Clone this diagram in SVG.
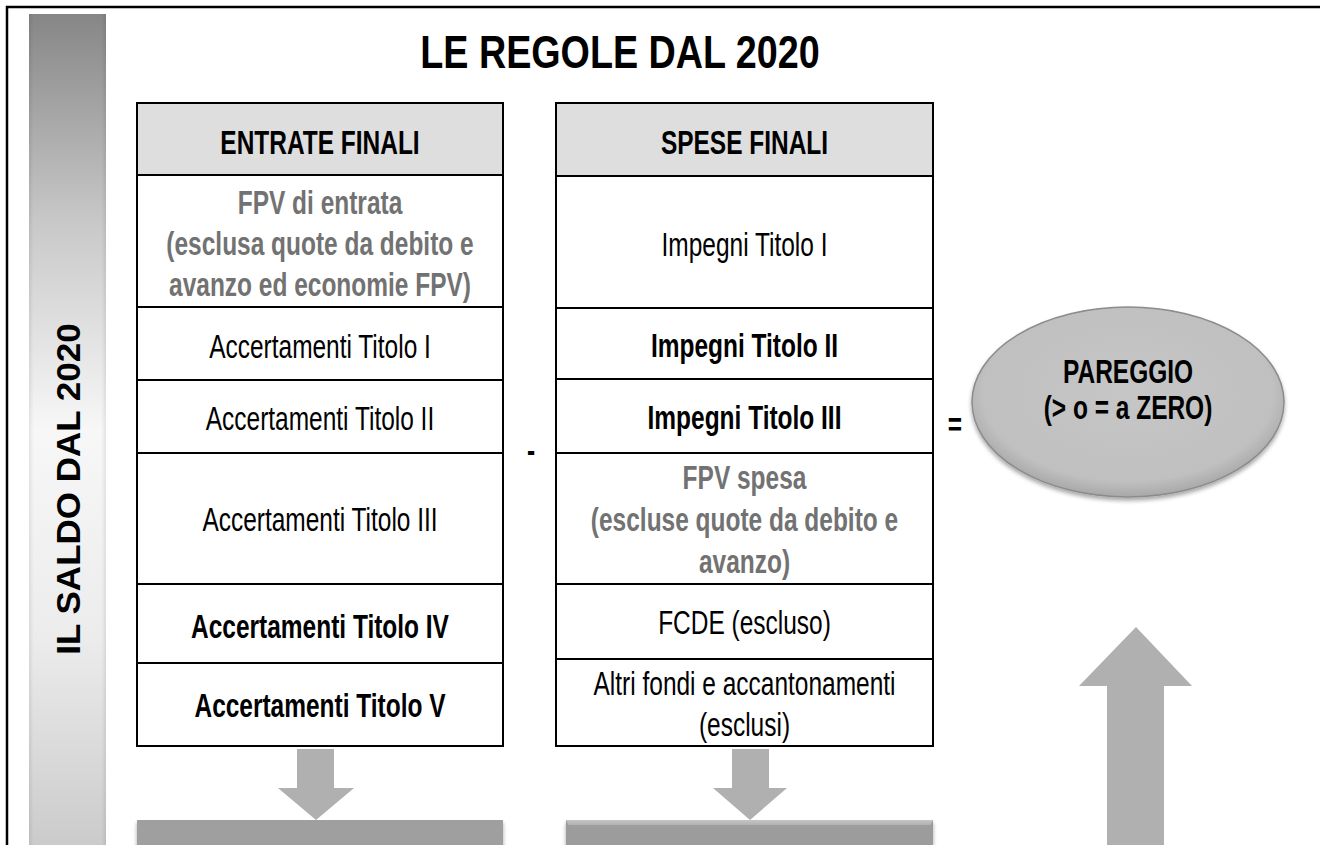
<svg xmlns="http://www.w3.org/2000/svg" width="1320" height="845" viewBox="0 0 1320 845">
<style>
text{font-family:"Liberation Sans",Arial,sans-serif;font-size:34px;text-anchor:middle;fill:#000}
.b{font-weight:bold}
.g{fill:#727272;font-weight:bold}
.cell{fill:#fff;stroke:#000;stroke-width:2}
.hdr{fill:#dedede;stroke:#000;stroke-width:2}
.arr{fill:#b0b0b0}
</style>
<defs>
<linearGradient id="barG" x1="0" y1="0" x2="0" y2="1">
<stop offset="0" stop-color="#868686"/>
<stop offset="0.25" stop-color="#c8c8c8"/>
<stop offset="0.5" stop-color="#f7f7f7"/>
<stop offset="0.75" stop-color="#ececec"/>
<stop offset="1" stop-color="#cbcbcb"/>
</linearGradient>
<linearGradient id="barEdge" x1="0" y1="0" x2="1" y2="0">
<stop offset="0" stop-color="#000" stop-opacity="0.08"/>
<stop offset="0.06" stop-color="#000" stop-opacity="0"/>
<stop offset="0.94" stop-color="#000" stop-opacity="0"/>
<stop offset="1" stop-color="#000" stop-opacity="0.08"/>
</linearGradient>
<radialGradient id="ellG" cx="0.5" cy="0.45" r="0.55">
<stop offset="0" stop-color="#c6c6c6"/>
<stop offset="0.85" stop-color="#c0c0c0"/>
<stop offset="1" stop-color="#a8a8a8"/>
</radialGradient>
<linearGradient id="boxBevel" x1="0" y1="0" x2="0" y2="1">
<stop offset="0" stop-color="#cfcfcf"/>
<stop offset="0.4" stop-color="#b8b8b8"/>
<stop offset="0.45" stop-color="#9e9e9e"/>
<stop offset="1" stop-color="#9c9c9c"/>
</linearGradient>
<filter id="sh" x="-10%" y="-10%" width="120%" height="130%">
<feGaussianBlur in="SourceAlpha" stdDeviation="2"/>
<feOffset dy="3" result="o"/>
<feComponentTransfer><feFuncA type="linear" slope="0.35"/></feComponentTransfer>
<feMerge><feMergeNode/><feMergeNode in="SourceGraphic"/></feMerge>
</filter>
</defs>
<rect width="1320" height="845" fill="#fff"/>
<!-- frame -->
<path d="M7 845 V7 H1320" fill="none" stroke="#000" stroke-width="2.5"/>

<g id="sidebar">
<rect x="29" y="14" width="77" height="831" fill="url(#barG)"/>
<rect x="29" y="14" width="77" height="831" fill="url(#barEdge)"/>
<text class="b" transform="translate(80,489) rotate(-90) scale(1.03,1)" x="0" y="0">IL SALDO DAL 2020</text>
</g>

<g id="title">
<text class="b" style="font-size:46px" transform="translate(620,0) scale(0.82,1)" x="0" y="68">LE REGOLE DAL 2020</text>
</g>

<g id="entrate">
<rect class="hdr" x="137" y="103" width="366" height="72"/>
<rect class="cell" x="137" y="175" width="366" height="132"/>
<rect class="cell" x="137" y="307" width="366" height="73"/>
<rect class="cell" x="137" y="380" width="366" height="73"/>
<rect class="cell" x="137" y="453" width="366" height="131"/>
<rect class="cell" x="137" y="584" width="366" height="79"/>
<rect class="cell" x="137" y="663" width="366" height="83"/>
<text class="b" transform="translate(320,0) scale(0.72,1)" y="154">ENTRATE FINALI</text>
<text class="g" transform="translate(320,0) scale(0.72,1)" y="214">FPV di entrata</text>
<text class="g" transform="translate(320,0) scale(0.72,1)" y="255">(esclusa quote da debito e</text>
<text class="g" transform="translate(320,0) scale(0.72,1)" y="296">avanzo ed economie FPV)</text>
<text transform="translate(320,0) scale(0.72,1)" y="358">Accertamenti Titolo I</text>
<text transform="translate(320,0) scale(0.72,1)" y="430">Accertamenti Titolo II</text>
<text transform="translate(320,0) scale(0.72,1)" y="531">Accertamenti Titolo III</text>
<text class="b" transform="translate(320,0) scale(0.72,1)" y="638">Accertamenti Titolo IV</text>
<text class="b" transform="translate(320,0) scale(0.72,1)" y="717">Accertamenti Titolo V</text>
</g>

<g id="minus">
<text class="b" transform="translate(531,0) scale(0.72,1)" y="462">-</text>
</g>

<g id="spese">
<rect class="hdr" x="556" y="103" width="377" height="73"/>
<rect class="cell" x="556" y="176" width="377" height="132"/>
<rect class="cell" x="556" y="308" width="377" height="71"/>
<rect class="cell" x="556" y="379" width="377" height="74"/>
<rect class="cell" x="556" y="453" width="377" height="131"/>
<rect class="cell" x="556" y="584" width="377" height="75"/>
<rect class="cell" x="556" y="659" width="377" height="87"/>
<text class="b" transform="translate(744.5,0) scale(0.72,1)" y="154">SPESE FINALI</text>
<text transform="translate(744.5,0) scale(0.72,1)" y="256">Impegni Titolo I</text>
<text class="b" transform="translate(744.5,0) scale(0.72,1)" y="357">Impegni Titolo II</text>
<text class="b" transform="translate(744.5,0) scale(0.72,1)" y="429">Impegni Titolo III</text>
<text class="g" transform="translate(744.5,0) scale(0.72,1)" y="489">FPV spesa</text>
<text class="g" transform="translate(744.5,0) scale(0.72,1)" y="531">(escluse quote da debito e</text>
<text class="g" transform="translate(744.5,0) scale(0.72,1)" y="573">avanzo)</text>
<text transform="translate(744.5,0) scale(0.72,1)" y="634">FCDE (escluso)</text>
<text transform="translate(744.5,0) scale(0.72,1)" y="695">Altri fondi e accantonamenti</text>
<text transform="translate(744.5,0) scale(0.72,1)" y="736">(esclusi)</text>
</g>

<g id="equals">
<text class="b" transform="translate(955,0) scale(0.72,1)" y="436">=</text>
</g>

<g id="pareggio">
<ellipse cx="1128" cy="402" rx="156" ry="95" fill="url(#ellG)" stroke="#8c8c8c" stroke-width="1.5" filter="url(#sh)"/>
<text class="b" transform="translate(1128,0) scale(0.72,1)" y="383">PAREGGIO</text>
<text class="b" transform="translate(1128,0) scale(0.72,1)" y="419">(&gt; o = a ZERO)</text>
</g>

<g id="box-left">
<rect x="137" y="820" width="366" height="30" fill="#9f9f9f" filter="url(#sh)"/>
</g>
<g id="box-right">
<rect x="566" y="820" width="367" height="30" fill="#9c9c9c" filter="url(#sh)"/>
<path d="M566 820 H933 L927 832 H572 Z" fill="url(#boxBevel)" opacity="0.8"/>
</g>

<g id="connectors">
<path class="arr" d="M297 749 H334 V788 H354 L316 820 L278 788 H297 Z"/>
<path class="arr" d="M732 749 H769 V788 H787 L750 820 L713 788 H732 Z"/>
<path class="arr" d="M1136 627 L1192 686 H1164 V845 H1107 V686 H1079 Z"/>
</g>
</svg>
